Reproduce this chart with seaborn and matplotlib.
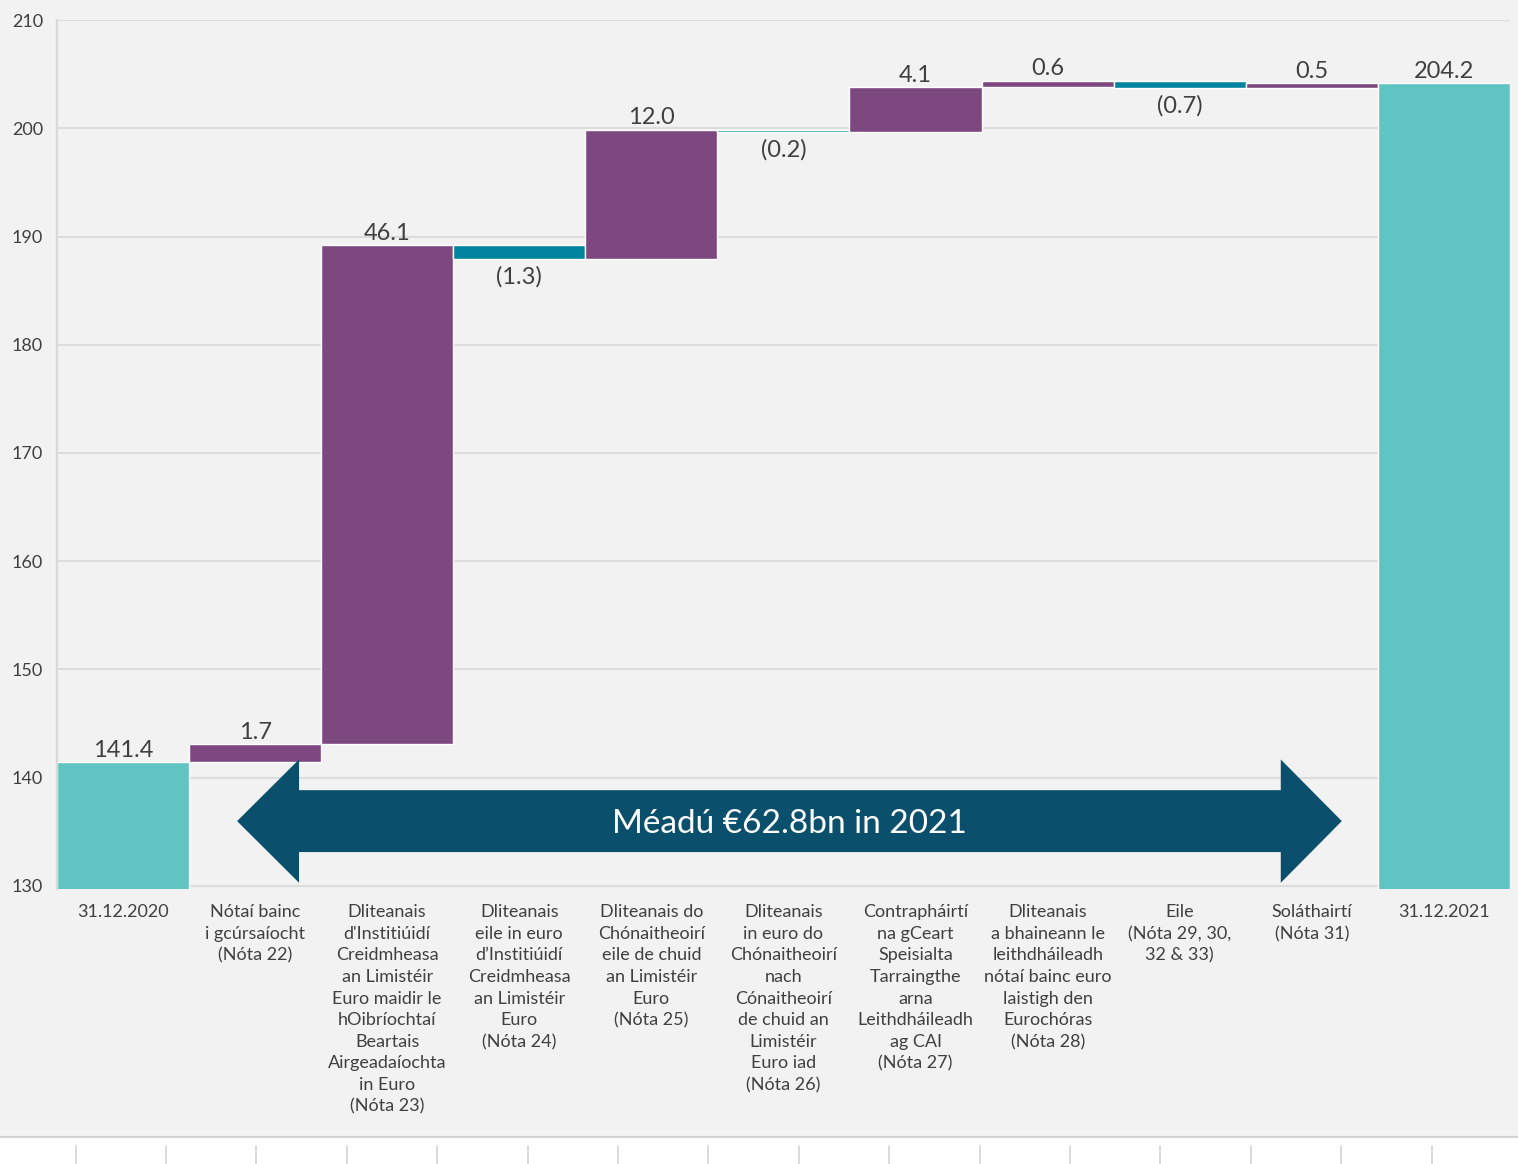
import matplotlib
matplotlib.use("Agg")
import matplotlib.pyplot as plt
from matplotlib.patches import Polygon, Rectangle
from matplotlib.lines import Line2D
import seaborn as sns
import pandas as pd

# data (EUR bn)
categories = [
    "31.12.2020",
    "Nótaí bainc\ni gcúrsaíocht\n(Nóta 22)",
    "Dliteanais\nd'Institiúidí\nCreidmheasa\nan Limistéir\nEuro maidir le\nhOibríochtaí\nBeartais\nAirgeadaíochta\nin Euro\n(Nóta 23)",
    "Dliteanais\neile in euro\nd’Institiúidí\nCreidmheasa\nan Limistéir\nEuro\n(Nóta 24)",
    "Dliteanais do\nChónaitheoirí\neile de chuid\nan Limistéir\nEuro\n(Nóta 25)",
    "Dliteanais\nin euro do\nChónaitheoirí\nnach\nCónaitheoirí\nde chuid an\nLimistéir\nEuro iad\n(Nóta 26)",
    "Contrapháirtí\nna gCeart\nSpeisialta\nTarraingthe\narna\nLeithdháileadh\nag CAI\n(Nóta 27)",
    "Dliteanais\na bhaineann le\nleithdháileadh\nnótaí bainc euro\nlaistigh den\nEurochóras\n(Nóta 28)",
    "Eile\n(Nóta 29, 30,\n32 & 33)",
    "Soláthairtí\n(Nóta 31)",
    "31.12.2021",
]
start_value = 141.4
changes = [1.7, 46.1, -1.3, 12.0, -0.2, 4.1, 0.6, -0.7, 0.5]
end_value = 204.2
arrow_text = "Méadú €62.8bn in 2021"

teal = "#5fc4c2"
purple = "#7d477f"
blue = "#00849f"
navy = "#0a4f6b"
bg = "#f2f2f2"
txt = "#404040"

# running totals for the floating bars
bottoms, tops = [], []
level = start_value
for c in changes:
    new = level + c
    bottoms.append(min(level, new))
    tops.append(max(level, new))
    level = new

heights = [start_value] + [abs(c) for c in changes] + [end_value]
colors = [teal] + [purple if c > 0 else blue for c in changes] + [teal]
df = pd.DataFrame({"cat": categories, "h": heights})

sns.set_style("white")
plt.rcParams["font.family"] = ["Lato", "DejaVu Sans"]

fig = plt.figure(figsize=(15.18, 11.64), dpi=100, facecolor=bg)
ax = fig.add_axes([0.0375, 0.2363, 0.9572, 0.7463])
ax.set_facecolor(bg)

sns.barplot(data=df, x="cat", y="h", hue="cat", palette=colors, legend=False,
            width=1.0, edgecolor="white", linewidth=1, saturation=1, ax=ax)

# move the change bars up to float between running totals
for i, p in enumerate(ax.patches[1:len(changes) + 1]):
    p.set_y(bottoms[i])
    p.set_height(tops[i] - bottoms[i])

ax.set_ylim(129.7, 210)
ax.set_xlim(-0.5, 10.5)
ax.set_yticks(range(130, 211, 10))
ax.yaxis.grid(True, color="#dcdcdc", linewidth=1.5)
ax.set_axisbelow(True)
for s in ["top", "right", "bottom"]:
    ax.spines[s].set_visible(False)
ax.spines["left"].set_color("#d9d9d9")
ax.spines["left"].set_linewidth(1.5)
ax.set_xlabel("")
ax.set_ylabel("")
ax.tick_params(axis="both", length=0, labelsize=13, labelcolor=txt)
ax.tick_params(axis="x", pad=11)
ax.tick_params(axis="y", pad=10)
for lab in ax.get_xticklabels():
    lab.set_linespacing(1.43)
    lab.set_verticalalignment("top")

# value labels
ax.annotate(f"{start_value:.1f}", (0, start_value), xytext=(0, 1), textcoords="offset points",
            ha="center", va="bottom", fontsize=17, color=txt)
for i, c in enumerate(changes):
    x = i + 1
    if c > 0:
        ax.annotate(f"{c:.1f}", (x, tops[i]), xytext=(0, 1), textcoords="offset points",
                    ha="center", va="bottom", fontsize=17, color=txt)
    else:
        ax.annotate(f"({abs(c):.1f})", (x, bottoms[i]), xytext=(0, -5), textcoords="offset points",
                    ha="center", va="top", fontsize=17, color=txt)
ax.annotate(f"{end_value:.1f}", (10, end_value), xytext=(0, 1), textcoords="offset points",
            ha="center", va="bottom", fontsize=17, color=txt)

# double-headed arrow
xl, xl2, xr2, xr = 0.864, 1.333, 8.765, 9.227
yc, ys, yh = 135.97, 2.86, 5.7
arrow = Polygon([(xl, yc), (xl2, yc + yh), (xl2, yc + ys), (xr2, yc + ys), (xr2, yc + yh),
                 (xr, yc), (xr2, yc - yh), (xr2, yc - ys), (xl2, yc - ys), (xl2, yc - yh)],
                closed=True, facecolor=navy, edgecolor="none", zorder=5)
ax.add_patch(arrow)
ax.text((xl + xr) / 2, yc - 0.3, arrow_text, ha="center", va="center", color="white",
        fontsize=24, zorder=6)

# white strip at the bottom with its small ticks
fig.add_artist(Rectangle((0, 0), 1, 27 / 1164, transform=fig.transFigure,
                         facecolor="white", edgecolor="none"))
fig.add_artist(Line2D([0, 1], [27 / 1164, 27 / 1164], transform=fig.transFigure,
                      color="#d4d4d4", linewidth=1.5))
for k in range(16):
    xp = (75.5 + 90.4 * k) / 1518
    fig.add_artist(Line2D([xp, xp], [0, 18 / 1164], transform=fig.transFigure,
                          color="#d4d4d4", linewidth=1.2))

fig.savefig("out.png", dpi=100, facecolor=bg)
